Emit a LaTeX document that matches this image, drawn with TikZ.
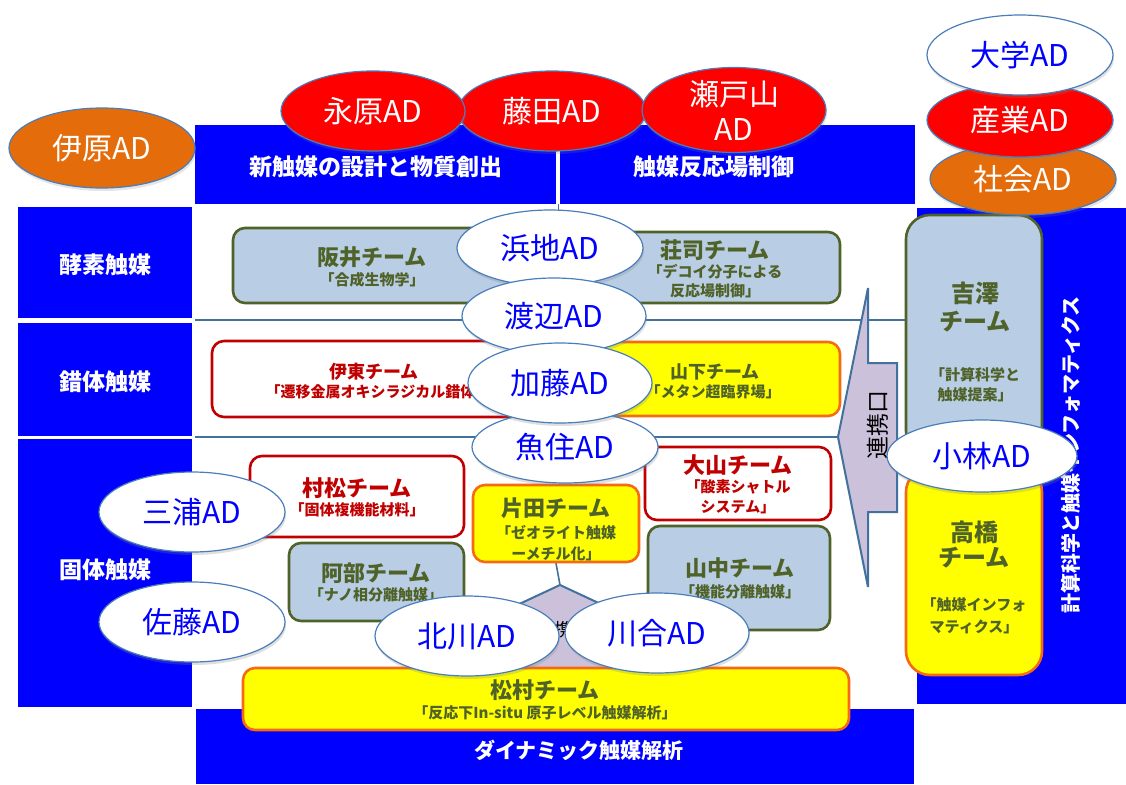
\documentclass[tikz,border=0pt]{standalone}
\usepackage{fontspec}
\newfontfamily\jp{Noto Sans CJK JP}
\usetikzlibrary{shapes.geometric,shadows}
\definecolor{pblue}{HTML}{0000FF}
\definecolor{adred}{HTML}{FF0000}
\definecolor{adorange}{HTML}{E46C0A}
\definecolor{edgeblue}{HTML}{4A7EBB}
\definecolor{lblue}{HTML}{B9CDE5}
\definecolor{olive}{HTML}{4F6228}
\definecolor{dred}{HTML}{C00000}
\definecolor{yel}{HTML}{FFFF00}
\definecolor{orng}{HTML}{F66A14}
\definecolor{lav}{HTML}{CCC1DA}
\definecolor{lineblue}{HTML}{41719C}
\tikzset{
  panel/.style={rectangle, fill=pblue, draw=none, inner sep=0pt, anchor=north west},
  cat/.style={text=white, inner sep=0pt, font=\jp\bfseries\fontsize{23}{23}\selectfont},
  adell/.style={ellipse, draw=edgeblue, line width=1.2pt, inner sep=0pt, align=center,
    font=\jp\fontsize{30}{35}\selectfont},
  adwhite/.style={adell, fill=white, text=pblue,
    drop shadow={shadow xshift=1pt, shadow yshift=-3pt, opacity=0.25}},
  adred/.style={adell, fill=adred, text=white,
    drop shadow={shadow xshift=1pt, shadow yshift=-3pt, opacity=0.2}},
  adorg/.style={adell, fill=adorange, text=white,
    drop shadow={shadow xshift=1pt, shadow yshift=-3pt, opacity=0.2}},
  tbox/.style={rectangle, rounded corners=12pt, line width=2.6pt, inner sep=0pt},
  tblue/.style={tbox, fill=lblue, draw=olive},
  tyel/.style={tbox, fill=yel, draw=orng},
  tred/.style={tbox, fill=white, draw=dred},
  ttitle/.style={inner sep=0pt, font=\jp\bfseries\fontsize{22}{22}\selectfont},
  tsub/.style={inner sep=0pt, font=\jp\bfseries\fontsize{15}{15}\selectfont},
  sep/.style={draw=lineblue, line width=1.6pt},
}
\begin{document}
\begin{tikzpicture}[x=1pt,y=-1pt]
\useasboundingbox (0,0) rectangle (1126,784);
\fill[white] (0,0) rectangle (1126,784);

% blue panels
\node[panel, minimum width=361pt, minimum height=79pt] (topL) at (195,125) {};
\node[panel, minimum width=355pt, minimum height=79pt] (topR) at (560,125) {};
\node[panel, minimum width=174pt, minimum height=111pt] (leftA) at (18,207) {};
\node[panel, minimum width=174pt, minimum height=113pt] (leftB) at (18,323) {};
\node[panel, minimum width=174pt, minimum height=268pt] (leftC) at (18,439) {};
\node[panel, minimum width=718pt, minimum height=75pt] (bottomP) at (196,709) {};
\node[panel, minimum width=209pt, minimum height=496pt] (rightP) at (917,208) {};

\node[cat] (topL-t) at (376,167) {新触媒の設計と物質創出};
\node[cat] (topR-t) at (714,167) {触媒反応場制御};
\node[cat] (leftA-t) at (105,265) {酵素触媒};
\node[cat] (leftB-t) at (105,382) {錯体触媒};
\node[cat] (leftC-t) at (105,570) {固体触媒};
\node[cat, font=\jp\bfseries\fontsize{21}{21}\selectfont] (bottom-t) at (579,750) {ダイナミック触媒解析};
\node[cat, rotate=90, font=\jp\bfseries\fontsize{20}{20}\selectfont] (right-t) at (1071,455) {計算科学と触媒インフォマティクス};

% separators
\coordinate (s1a) at (195,320);
\coordinate (s1b) at (905,320);
\coordinate (s2a) at (195,437);
\coordinate (dv1) at (558,204);
\coordinate (dv2) at (558,212);
\draw[sep] (s1a) -- (s1b);
\draw[draw=lineblue, line width=0.8pt] (dv1) -- (dv2);

% right 連携口 callout
\coordinate (ctop) at (868,288);
\coordinate (c1) at (868,363);
\coordinate (c2) at (897,363);
\coordinate (c3) at (897,512);
\coordinate (c4) at (868,512);
\coordinate (cbot) at (868,587);
\coordinate (ctip) at (838,437);
\draw[sep] (s2a) -- (ctip);
\draw[fill=lav, draw=lineblue, line width=2pt, line join=miter]
  (ctop) -- (c1) -- (c2) -- (c3) -- (c4) -- (cbot) -- (ctip) -- cycle;
\node[inner sep=0pt, rotate=90, font=\jp\fontsize{23}{23}\selectfont] (renkei) at (878,425) {連携口};

% team boxes
\node[tblue, minimum width=287pt, minimum height=75pt] (sakai) at (376.5,265.5) {};
\node[ttitle, text=olive] (sakai-t) at (372,257) {阪井チーム};
\node[tsub, text=olive] (sakai-s) at (372,280) {「合成生物学」};

\node[tblue, minimum width=250pt, minimum height=71pt] (shoji) at (715,267.5) {};
\node[ttitle, text=olive] (shoji-t) at (715,250) {荘司チーム};
\node[tsub, text=olive] (shoji-s1) at (715,272) {「デコイ分子による};
\node[tsub, text=olive] (shoji-s2) at (715,291) {反応場制御」};

\node[tred, minimum width=328pt, minimum height=76pt] (ito) at (376,379) {};
\node[ttitle, text=dred, font=\jp\bfseries\fontsize{18}{18}\selectfont] (ito-t) at (374,372) {伊東チーム};
\node[tsub, text=dred] (ito-s) at (378,392) {「遷移金属オキシラジカル錯体」};

\node[tyel, minimum width=250pt, minimum height=74pt] (yamashita) at (715,379) {};
\node[ttitle, text=olive, font=\jp\bfseries\fontsize{18}{18}\selectfont] (yamashita-t) at (715,372) {山下チーム};
\node[tsub, text=olive] (yamashita-s) at (713,392) {「メタン超臨界場」};

\node[tred, minimum width=214pt, minimum height=81pt] (muramatsu) at (357,496.5) {};
\node[ttitle, text=dred] (muramatsu-t) at (357,488) {村松チーム};
\node[tsub, text=dred] (muramatsu-s) at (357,510) {「固体複機能材料」};

\node[tred, minimum width=186pt, minimum height=73pt] (oyama) at (738,483.5) {};
\node[ttitle, text=dred] (oyama-t) at (738,465) {大山チーム};
\node[tsub, text=dred] (oyama-s1) at (738,487) {「酸素シャトル};
\node[tsub, text=dred] (oyama-s2) at (738,507) {システム」};

\node[tblue, minimum width=175pt, minimum height=78pt] (abe) at (376.5,582) {};
\node[ttitle, text=olive] (abe-t) at (376,573) {阿部チーム};
\node[tsub, text=olive] (abe-s) at (376,595) {「ナノ相分離触媒」};

\node[tblue, minimum width=182pt, minimum height=104pt] (yamanaka) at (739,578) {};
\node[ttitle, text=olive] (yamanaka-t) at (740,568) {山中チーム};
\node[tsub, text=olive] (yamanaka-s) at (740,592) {「機能分離触媒」};

\node[tblue, rounded corners=24pt, minimum width=136pt, minimum height=240pt] (yoshizawa) at (974,335) {};
\node[ttitle, text=olive, font=\jp\bfseries\fontsize{24}{24}\selectfont] (yoshizawa-t1) at (975,293) {吉澤};
\node[ttitle, text=olive, font=\jp\bfseries\fontsize{24}{24}\selectfont] (yoshizawa-t2) at (975,322) {チーム};
\node[tsub, text=olive] (yoshizawa-s1) at (975,375) {「計算科学と};
\node[tsub, text=olive] (yoshizawa-s2) at (975,395) {触媒提案」};

\node[tyel, rounded corners=24pt, minimum width=136pt, minimum height=207pt] (takahashi) at (974,571.5) {};
\node[ttitle, text=olive, font=\jp\bfseries\fontsize{24}{24}\selectfont] (takahashi-t1) at (974,532) {高橋};
\node[ttitle, text=olive, font=\jp\bfseries\fontsize{24}{24}\selectfont] (takahashi-t2) at (974,558) {チーム};
\node[tsub, text=olive] (takahashi-s1) at (974,605) {「触媒インフォ};
\node[tsub, text=olive] (takahashi-s2) at (974,627) {マティクス」};

\node[tyel, minimum width=166pt, minimum height=77pt] (katata) at (556,523.5) {};
\node[ttitle, text=olive] (katata-t) at (556,508) {片田チーム};
\node[tsub, text=olive] (katata-s1) at (556,533) {「ゼオライト触媒};
\node[tsub, text=olive] (katata-s2) at (556,554) {ーメチル化」};

% central connector shape
\coordinate (hextop) at (560,585);
\coordinate (h1) at (635,620);
\coordinate (h2) at (635,675);
\coordinate (h3) at (485,675);
\coordinate (h4) at (485,620);
\draw[sep] (katata.south) -- (hextop);
\draw[fill=lav, draw=lineblue, line width=2pt] (hextop) -- (h1) -- (h2) -- (h3) -- (h4) -- cycle;
\node[inner sep=0pt, font=\jp\fontsize{18}{18}\selectfont] (renkei2) at (563,630) {連携口};

\node[tyel, minimum width=606pt, minimum height=62pt] (matsumura) at (546,699) {};
\node[ttitle, text=olive] (matsumura-t) at (545,690) {松村チーム};
\node[tsub, text=olive] (matsumura-s) at (545,713) {「反応下In-situ 原子レベル触媒解析」};

% AD ellipses
\node[adorg, minimum width=186pt, minimum height=80pt] (ihara) at (102,148) {伊原AD};
\node[adred, minimum width=188pt, minimum height=80pt] (fujita) at (552,111) {藤田AD};
\node[adred, minimum width=184pt, minimum height=80pt] (nagahara) at (373,111) {永原AD};
\node[adred, minimum width=184pt, minimum height=80pt] (setoyama) at (734,110) {瀬戸山\\AD};
\node[adorg, minimum width=186pt, minimum height=72pt] (shakai) at (1023,179) {社会AD};
\node[adred, minimum width=186pt, minimum height=74pt] (sangyo) at (1020,120) {産業AD};
\node[adwhite, minimum width=186pt, minimum height=80pt] (daigaku) at (1020,55) {大学AD};

\node[adwhite, minimum width=186pt, minimum height=76pt] (hamachi) at (550,248) {浜地AD};
\node[adwhite, minimum width=184pt, minimum height=76pt] (watanabe) at (554,316) {渡辺AD};
\node[adwhite, minimum width=186pt, minimum height=72pt] (uozumi) at (565,447) {魚住AD};
\node[adwhite, minimum width=184pt, minimum height=80pt] (kato) at (560,383) {加藤AD};

\node[adwhite, minimum width=186pt, minimum height=80pt] (miura) at (192,512) {三浦AD};
\node[adwhite, minimum width=186pt, minimum height=80pt] (sato) at (192,622) {佐藤AD};
\node[adwhite, minimum width=184pt, minimum height=80pt] (kitagawa) at (467,636) {北川AD};
\node[adwhite, minimum width=184pt, minimum height=80pt] (kawai) at (657,633) {川合AD};
\node[adwhite, minimum width=190pt, minimum height=72pt] (kobayashi) at (982,456) {小林AD};
\end{tikzpicture}
\end{document}
